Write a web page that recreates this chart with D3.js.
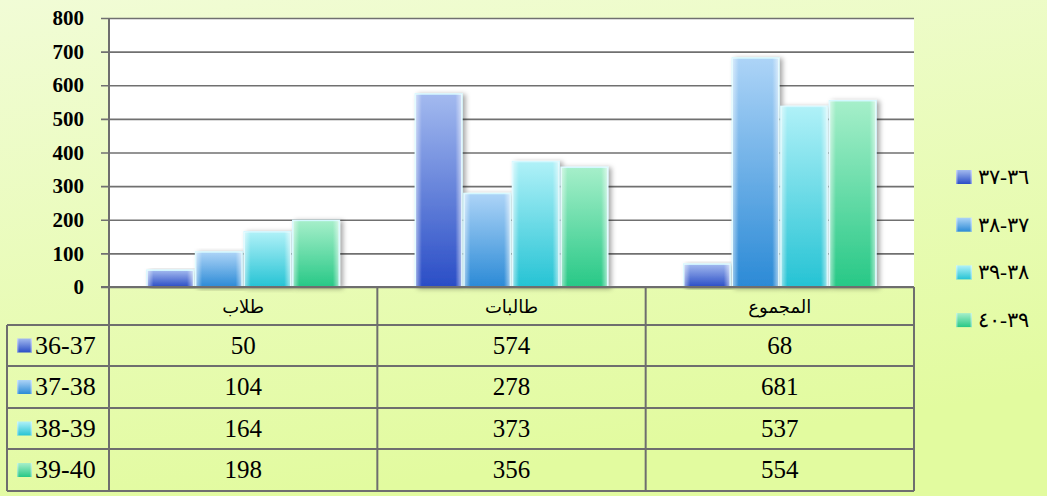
<!DOCTYPE html>
<html>
<head>
<meta charset="utf-8">
<script src="https://cdn.jsdelivr.net/npm/d3@7"></script>
<style>
  body { margin: 0; overflow: hidden; }
  svg { display: block; }
  .serif { font-family: "Liberation Serif", "DejaVu Serif", "Times New Roman", serif; }
</style>
</head>
<body>
<div id="chart"></div>
<script>
/* DATA */
const categories = ["طلاب", "طالبات", "المجموع"];
const seriesKeys = ["36-37", "37-38", "38-39", "39-40"];
const legendLabels = ["٣٦-٣٧", "٣٧-٣٨", "٣٨-٣٩", "٣٩-٤٠"];
const series3637 = [50, 574, 68];
const series3738 = [104, 278, 681];
const series3839 = [164, 373, 537];
const series3940 = [198, 356, 554];
const yTicks = [0, 100, 200, 300, 400, 500, 600, 700, 800];

const seriesValues = [series3637, series3738, series3839, series3940];
// top / bottom colours of each bar gradient
const barColors = [
  ["#a3baef", "#2a4dc6"],
  ["#add4f7", "#2b8ad6"],
  ["#b0f1f8", "#25c3d4"],
  ["#a6efca", "#27c886"]
];

/* LAYOUT */
const width = 1047, height = 496;
const plot = { left: 109, right: 914, top: 18, bottom: 287 };
const tableLeft = 7;
const rowLines = [287, 325, 366, 408, 449, 491];

const svg = d3.select("#chart").append("svg")
  .attr("width", width)
  .attr("height", height);

const defs = svg.append("defs");

// page background
const bg = defs.append("linearGradient").attr("id", "bg")
  .attr("x1", 0).attr("y1", 0).attr("x2", 0.3).attr("y2", 1);
bg.append("stop").attr("offset", "0%").attr("stop-color", "#f1fcd6");
bg.append("stop").attr("offset", "100%").attr("stop-color", "#e2fb9f");

barColors.forEach((c, i) => {
  const g = defs.append("linearGradient").attr("id", "bar" + i)
    .attr("x1", 0).attr("y1", 0).attr("x2", 0).attr("y2", 1);
  g.append("stop").attr("offset", "0%").attr("stop-color", c[0]);
  g.append("stop").attr("offset", "100%").attr("stop-color", c[1]);
});

// glossy edges on bars
const edge = defs.append("linearGradient").attr("id", "edge")
  .attr("x1", 0).attr("y1", 0).attr("x2", 1).attr("y2", 0);
[["0%", 0.55], ["14%", 0], ["86%", 0], ["100%", 0.6]].forEach(s => {
  edge.append("stop").attr("offset", s[0]).attr("stop-color", "#ffffff").attr("stop-opacity", s[1]);
});

const shadow = defs.append("filter").attr("id", "shadow")
  .attr("x", "-30%").attr("y", "-10%").attr("width", "160%").attr("height", "120%");
shadow.append("feDropShadow")
  .attr("dx", 3).attr("dy", 1).attr("stdDeviation", 2.5)
  .attr("flood-color", "#000").attr("flood-opacity", 0.35);

svg.append("rect").attr("width", width).attr("height", height).attr("fill", "url(#bg)");

/* SCALES */
const x0 = d3.scaleBand().domain(categories).range([plot.left, plot.right]);
const x1 = d3.scaleBand().domain(seriesKeys).range([37, x0.bandwidth() - 37]);
const y = d3.scaleLinear().domain([0, 800]).range([plot.bottom, plot.top]);

// plot area
svg.append("rect")
  .attr("x", plot.left).attr("y", plot.top)
  .attr("width", plot.right - plot.left).attr("height", plot.bottom - plot.top)
  .attr("fill", "#fff");

// gridlines + tick labels
const yAxis = d3.axisLeft(y).tickValues(yTicks).tickSize(plot.right - plot.left + 8).tickPadding(17);
const ga = svg.append("g")
  .attr("transform", `translate(${plot.right},0)`)
  .call(yAxis)
  .attr("font-family", null)
  .attr("font-size", null);
ga.select(".domain").remove();
ga.selectAll(".tick line").attr("stroke", "#707070").attr("stroke-width", 1.6);
ga.selectAll(".tick text")
  .attr("class", "serif")
  .attr("font-weight", "bold")
  .attr("font-size", 21)
  .attr("fill", "#000");

/* BARS */
const groups = svg.append("g").selectAll("g")
  .data(seriesKeys)
  .join("g");

groups.each(function(key, si) {
  const g = d3.select(this);
  const vals = seriesValues[si];
  const bars = g.selectAll("g.bar")
    .data(vals.map((v, ci) => ({ cat: categories[ci], v })))
    .join("g").attr("class", "bar");
  bars.append("rect")
    .attr("x", d => x0(d.cat) + x1(key) + 1)
    .attr("y", d => y(d.v))
    .attr("width", x1.bandwidth() - 2)
    .attr("height", d => y(0) - y(d.v))
    .attr("fill", `url(#bar${si})`)
    .attr("stroke", "#d4f8ff")
    .attr("stroke-width", 1.5)
    .attr("filter", "url(#shadow)");
  bars.append("rect")
    .attr("x", d => x0(d.cat) + x1(key) + 1)
    .attr("y", d => y(d.v))
    .attr("width", x1.bandwidth() - 2)
    .attr("height", d => y(0) - y(d.v))
    .attr("fill", "url(#edge)");
});

/* TABLE */
const lineColor = "#6e6e6e";
const tbl = svg.append("g").attr("stroke", lineColor).attr("stroke-width", 2);
rowLines.forEach((ly, i) => {
  tbl.append("line")
    .attr("x1", i === 0 ? plot.left - 8 : tableLeft)
    .attr("x2", plot.right)
    .attr("y1", ly).attr("y2", ly);
});
// vertical lines
tbl.append("line").attr("x1", plot.left).attr("x2", plot.left).attr("y1", plot.top).attr("y2", 491);
tbl.append("line").attr("x1", tableLeft).attr("x2", tableLeft).attr("y1", 325).attr("y2", 491);
categories.forEach(c => {
  const xr = x0(c) + x0.bandwidth();
  tbl.append("line").attr("x1", xr).attr("x2", xr).attr("y1", plot.bottom).attr("y2", 491);
});

// header (category names)
svg.append("g").selectAll("text")
  .data(categories)
  .join("text")
  .attr("x", d => x0(d) + x0.bandwidth() / 2)
  .attr("y", 313)
  .attr("text-anchor", "middle")
  .attr("font-family", "'DejaVu Sans', sans-serif")
  .attr("font-size", 18)
  .attr("fill", "#000")
  .text(d => d);

// rows
seriesKeys.forEach((key, si) => {
  const top = rowLines[si + 1], bot = rowLines[si + 2];
  const cy = (top + bot) / 2;
  svg.append("rect")
    .attr("x", 17).attr("y", cy - 7).attr("width", 15).attr("height", 14)
    .attr("fill", `url(#bar${si})`);
  svg.append("rect")
    .attr("x", 17).attr("y", cy - 7).attr("width", 15).attr("height", 14)
    .attr("fill", "url(#edge)");
  svg.append("text")
    .attr("class", "serif")
    .attr("x", 35).attr("y", cy + 8)
    .attr("font-size", 26)
    .attr("fill", "#000")
    .text(key);
  svg.append("g").selectAll("text")
    .data(seriesValues[si])
    .join("text")
    .attr("class", "serif")
    .attr("x", (d, ci) => x0(categories[ci]) + x0.bandwidth() / 2)
    .attr("y", cy + 8)
    .attr("text-anchor", "middle")
    .attr("font-size", 25)
    .attr("fill", "#000")
    .text(d => d);
});

/* LEGEND */
const legend = svg.append("g").selectAll("g")
  .data(legendLabels)
  .join("g")
  .attr("transform", (d, i) => `translate(956,${177 + i * 47.7})`);
legend.append("rect")
  .attr("x", 0).attr("y", -7).attr("width", 16).attr("height", 14)
  .attr("fill", (d, i) => `url(#bar${i})`);
legend.append("rect")
  .attr("x", 0).attr("y", -7).attr("width", 16).attr("height", 14)
  .attr("fill", "url(#edge)");
legend.append("text")
  .attr("x", 22).attr("y", 7)
  .attr("class", "serif")
  .attr("font-size", 21)
  .attr("fill", "#000")
  .text(d => d);
</script>
</body>
</html>
